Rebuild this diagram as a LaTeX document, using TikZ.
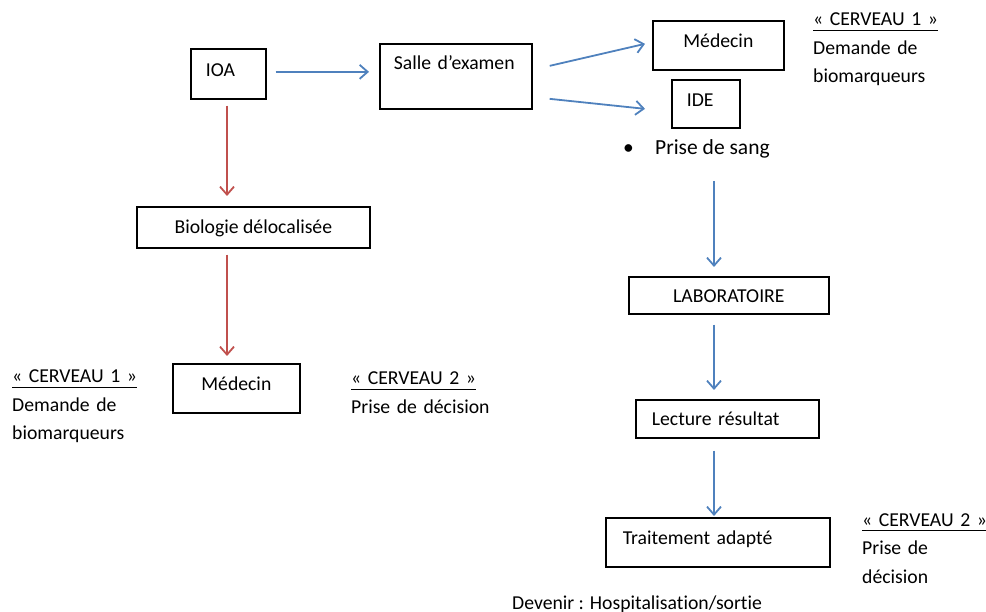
\documentclass[tikz,border=0pt]{standalone}
\usepackage{fontspec}
\setmainfont{Carlito}[Ligatures=NoCommon]
\usetikzlibrary{arrows.meta}

\definecolor{flecheb}{HTML}{4F81BD}
\definecolor{flecher}{HTML}{C0504D}
\newcommand{\souligne}[1]{\setbox0\hbox{#1}\rlap{\rule[-5pt]{\wd0}{1.2pt}}\box0}

\begin{document}
\begin{tikzpicture}[x=1pt, y=-1pt, >={Straight Barb[length=8pt, width=14pt]},
    font=\fontsize{19.7}{28.5}\selectfont,
    boite/.style={draw, line width=1.7pt, inner ysep=0pt, anchor=north west},
    gauche/.style={align=left, inner xsep=#1},
    note/.style={anchor=base west, inner sep=0pt, text width=#1, align=left},
    bleu/.style={->, line width=1.8pt, flecheb},
    rouge/.style={->, line width=1.8pt, flecher}]
            \useasboundingbox (0,0) rectangle (986,612);
            \coordinate (axer) at (227,0);
            \coordinate (axeb) at (714,0);

            \node[boite, gauche=15pt, text width=45pt, minimum height=50pt, text height=28pt, text depth=22pt] (ioa) at (190,48) {IOA};
            \node[boite, gauche=14pt, text width=124pt, minimum height=65pt, text height=26pt, text depth=39pt] (salle) at (379,43) {Salle d’examen};
            \node[boite, minimum width=131pt, minimum height=49pt, text height=27pt, text depth=22pt] (medhaut) at (652,20) {Médecin};
            \node[boite, gauche=15pt, text width=38pt, minimum height=48pt, text height=27pt, text depth=21pt] (ide) at (671,79) {IDE};
            \node[boite, minimum width=233pt, minimum height=41pt, text height=27pt, text depth=14pt] (bio) at (136,206) {Biologie délocalisée};
            \node[boite, minimum width=127pt, minimum height=49pt, text height=27pt, text depth=22pt] (medbas) at (172,363) {Médecin};
            \node[boite, minimum width=200pt, minimum height=37pt, text height=26pt, text depth=11pt] (labo) at (628,276) {LABORATOIRE};
            \node[boite, gauche=16pt, text width=151pt, minimum height=38pt, text height=26pt, text depth=12pt] (lecture) at (635,399) {Lecture résultat};
            \node[boite, gauche=17pt, text width=190pt, minimum height=49pt, text height=27pt, text depth=22pt] (traitement) at (605,517) {Traitement adapté};

            \node[anchor=base west, inner sep=0pt, font=\fontsize{21.5}{28.5}\selectfont] (prise) at (623,155) {\makebox[32pt][l]{\textbullet}Prise de sang};
            \node[note=140pt] (cerv1d) at (813,26) {\souligne{« CERVEAU 1 »}\\Demande de\\biomarqueurs};
            \node[note=140pt] (cerv1g) at (12,383) {\souligne{« CERVEAU 1 »}\\Demande de\\biomarqueurs};
            \node[note=150pt] (cerv2m) at (351,385) {\souligne{« CERVEAU 2 »}\\Prise de décision};
            \node[note=124pt] (cerv2d) at (862,526) {\souligne{« CERVEAU 2 »}\\Prise de\\décision};
            \node[anchor=base west, inner sep=0pt] (devenir) at (512,609) {Devenir : Hospitalisation/sortie};

            \draw[bleu] ([xshift=9pt, yshift=2pt]ioa.east) -- ([xshift=-10pt, yshift=4.5pt]salle.west);
            \draw[bleu] ([xshift=17pt, yshift=10.5pt]salle.east) -- ([xshift=-7pt, yshift=1.5pt]medhaut.west);
            \draw[bleu] ([xshift=17pt, yshift=-22.5pt]salle.east) -- ([xshift=-26pt, yshift=-5pt]ide.west);
            \draw[bleu, shorten <=22pt, shorten >=9pt] (prise.south -| axeb) -- (labo.north -| axeb);
            \draw[bleu, shorten <=10pt, shorten >=9pt] (labo.south -| axeb) -- (lecture.north -| axeb);
            \draw[bleu, shorten <=12pt, shorten >=1pt] (lecture.south -| axeb) -- (traitement.north -| axeb);

            \draw[rouge, shorten <=6pt, shorten >=10pt] (ioa.south -| axer) -- (bio.north -| axer);
            \draw[rouge, shorten <=6pt, shorten >=7pt] (bio.south -| axer) -- (medbas.north -| axer);
        \end{tikzpicture}
\end{document}
